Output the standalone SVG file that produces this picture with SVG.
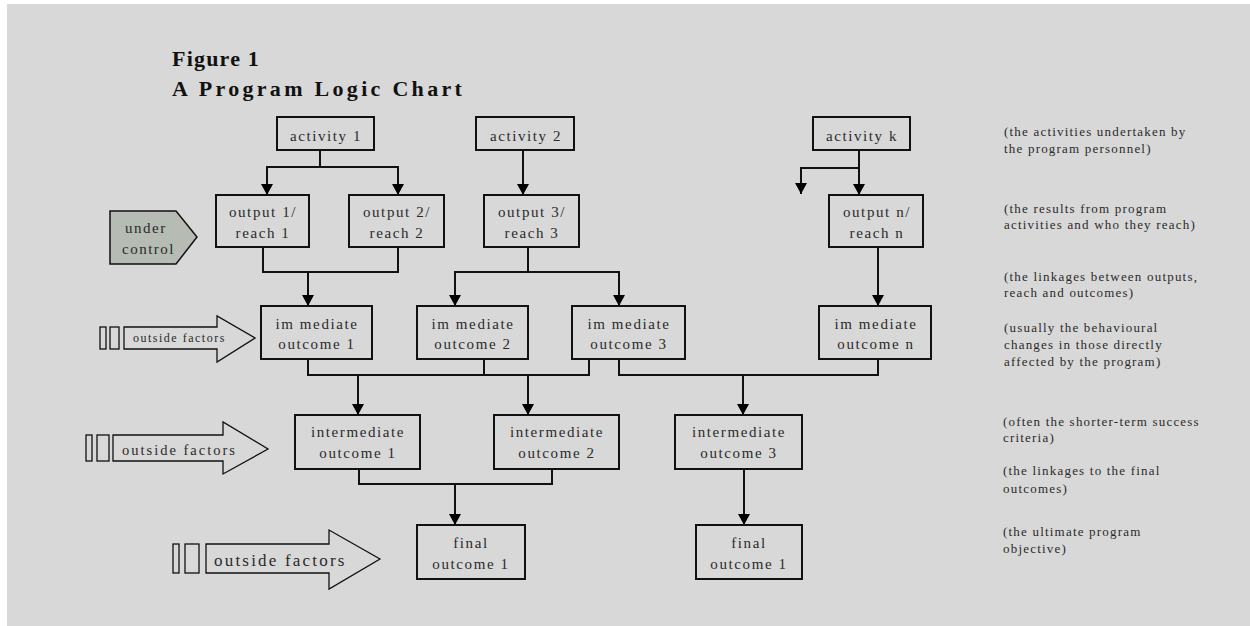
<svg xmlns="http://www.w3.org/2000/svg" width="1250" height="626" viewBox="0 0 1250 626">
<defs>
<marker id="ah" viewBox="0 0 11 12" refX="11" refY="6" markerWidth="11" markerHeight="12" markerUnits="userSpaceOnUse" orient="auto">
<polygon points="0,0 11,6 0,12" fill="#000"/>
</marker>
<style>
.bg{fill:#d8d8d8}
.box{fill:none;stroke:#111;stroke-width:2}
.bt{font-family:"Liberation Serif","Times New Roman",serif;font-size:15px;letter-spacing:1.6px;fill:#2a2a2a;text-anchor:middle}
.ann{font-family:"Liberation Serif","Times New Roman",serif;font-size:13px;letter-spacing:1.2px;fill:#2a2a2a}
.ttl{font-family:"Liberation Serif","Times New Roman",serif;font-weight:bold;font-size:22px;fill:#111}
.con{fill:none;stroke:#111;stroke-width:2}
.arr{marker-end:url(#ah)}
.of{fill:none;stroke:#111;stroke-width:1.3}
.oft{font-family:"Liberation Serif","Times New Roman",serif;fill:#2a2a2a}
</style>
</defs>
<rect class="bg" x="7" y="4" width="1243" height="622"/>
<g id="title">
<text class="ttl" x="172" y="66" style="letter-spacing:1.2px">Figure 1</text>
<text class="ttl" x="172" y="96" style="letter-spacing:3.3px">A Program Logic Chart</text>
</g>
<g id="connectors">
<path class="con arr" d="M320,150 V167 H267 V195"/>
<path class="con arr" d="M320,167 H398 V195"/>
<path class="con arr" d="M523,150 V195"/>
<path class="con arr" d="M859,150 V195"/>
<path class="con arr" d="M859,168 H801 V194"/>
<path class="con" d="M263,247 V272 H398 V247"/>
<path class="con arr" d="M308,272 V306"/>
<path class="con" d="M528,247 V272"/>
<path class="con arr" d="M528,272 H455 V306"/>
<path class="con arr" d="M528,272 H619 V306"/>
<path class="con arr" d="M878,247 V306"/>
<path class="con" d="M308,359 V375 H589 V359"/>
<path class="con" d="M484,359 V375"/>
<path class="con arr" d="M358,375 V415"/>
<path class="con arr" d="M528,375 V415"/>
<path class="con" d="M619,359 V375 H878 V359"/>
<path class="con arr" d="M743,375 V415"/>
<path class="con" d="M359,469 V484 H552 V469"/>
<path class="con arr" d="M455,484 V525"/>
<path class="con arr" d="M744,469 V525"/>
</g>
<g id="activity1"><rect class="box" x="277" y="117" width="97" height="33"/><text class="bt" x="326" y="141">activity 1</text></g>
<g id="activity2"><rect class="box" x="476" y="117" width="98" height="33"/><text class="bt" x="526" y="141">activity 2</text></g>
<g id="activityk"><rect class="box" x="813" y="117" width="97" height="33"/><text class="bt" x="862" y="141">activity k</text></g>
<g id="output1"><rect class="box" x="216" y="195" width="93" height="52"/><text class="bt" x="263" y="217">output 1/</text><text class="bt" x="263" y="238">reach 1</text></g>
<g id="output2"><rect class="box" x="349" y="195" width="95" height="52"/><text class="bt" x="397" y="217">output 2/</text><text class="bt" x="397" y="238">reach 2</text></g>
<g id="output3"><rect class="box" x="484" y="195" width="95" height="52"/><text class="bt" x="532" y="217">output 3/</text><text class="bt" x="532" y="238">reach 3</text></g>
<g id="outputn"><rect class="box" x="829" y="195" width="94" height="52"/><text class="bt" x="877" y="217">output n/</text><text class="bt" x="877" y="238">reach n</text></g>
<g id="undercontrol">
<polygon points="110,211 176,211 197,237 176,264 110,264" fill="#b6bbb3" stroke="#111" stroke-width="1.5"/>
<text class="oft" x="125" y="233" style="font-size:15px;letter-spacing:1.5px">under</text>
<text class="oft" x="122" y="254" style="font-size:15px;letter-spacing:1.5px">control</text>
</g>
<g id="immediate1"><rect class="box" x="261" y="306" width="111" height="53"/><text class="bt" x="317" y="329">im mediate</text><text class="bt" x="317" y="349">outcome 1</text></g>
<g id="immediate2"><rect class="box" x="417" y="306" width="111" height="53"/><text class="bt" x="473" y="329">im mediate</text><text class="bt" x="473" y="349">outcome 2</text></g>
<g id="immediate3"><rect class="box" x="572" y="306" width="113" height="53"/><text class="bt" x="629" y="329">im mediate</text><text class="bt" x="629" y="349">outcome 3</text></g>
<g id="immediaten"><rect class="box" x="819" y="306" width="112" height="53"/><text class="bt" x="876" y="329">im mediate</text><text class="bt" x="876" y="349">outcome n</text></g>
<g id="outside1">
<rect class="of" x="100" y="327" width="6" height="22"/>
<rect class="of" x="110" y="327" width="9" height="22"/>
<polygon class="of" points="124,327 217,327 217,316 255,338 217,362 217,349 124,349"/>
<text class="oft" x="133" y="342" style="font-size:12px;letter-spacing:1.5px">outside factors</text>
</g>
<g id="intermediate1"><rect class="box" x="295" y="415" width="125" height="54"/><text class="bt" x="358" y="437">intermediate</text><text class="bt" x="358" y="458">outcome 1</text></g>
<g id="intermediate2"><rect class="box" x="494" y="415" width="125" height="54"/><text class="bt" x="557" y="437">intermediate</text><text class="bt" x="557" y="458">outcome 2</text></g>
<g id="intermediate3"><rect class="box" x="675" y="415" width="127" height="54"/><text class="bt" x="739" y="437">intermediate</text><text class="bt" x="739" y="458">outcome 3</text></g>
<g id="outside2">
<rect class="of" x="86" y="435" width="6" height="26"/>
<rect class="of" x="97" y="435" width="12" height="26"/>
<polygon class="of" points="113,435 223,435 223,422 268,449 223,474 223,461 113,461"/>
<text class="oft" x="122" y="455" style="font-size:14.5px;letter-spacing:2px">outside factors</text>
</g>
<g id="final1"><rect class="box" x="417" y="525" width="108" height="54"/><text class="bt" x="471" y="548">final</text><text class="bt" x="471" y="569">outcome 1</text></g>
<g id="final2"><rect class="box" x="696" y="525" width="106" height="54"/><text class="bt" x="749" y="548">final</text><text class="bt" x="749" y="569">outcome 1</text></g>
<g id="outside3">
<rect class="of" x="173" y="544" width="6" height="29"/>
<rect class="of" x="185" y="544" width="14" height="29"/>
<polygon class="of" points="206,544 329,544 329,530 380,559 329,589 329,573 206,573"/>
<text class="oft" x="214" y="566" style="font-size:17px;letter-spacing:2.2px">outside factors</text>
</g>
<g id="annotations">
<text class="ann" x="1004" y="136">(the activities undertaken by</text>
<text class="ann" x="1004" y="153">the program personnel)</text>
<text class="ann" x="1004" y="213">(the results from program</text>
<text class="ann" x="1004" y="229">activities and who they reach)</text>
<text class="ann" x="1004" y="281">(the linkages between outputs,</text>
<text class="ann" x="1004" y="297">reach and outcomes)</text>
<text class="ann" x="1004" y="332">(usually the behavioural</text>
<text class="ann" x="1004" y="349">changes in those directly</text>
<text class="ann" x="1004" y="366">affected by the program)</text>
<text class="ann" x="1003" y="426">(often the shorter-term success</text>
<text class="ann" x="1003" y="442">criteria)</text>
<text class="ann" x="1003" y="475">(the linkages to the final</text>
<text class="ann" x="1003" y="493">outcomes)</text>
<text class="ann" x="1003" y="536">(the ultimate program</text>
<text class="ann" x="1003" y="553">objective)</text>
</g>
</svg>
